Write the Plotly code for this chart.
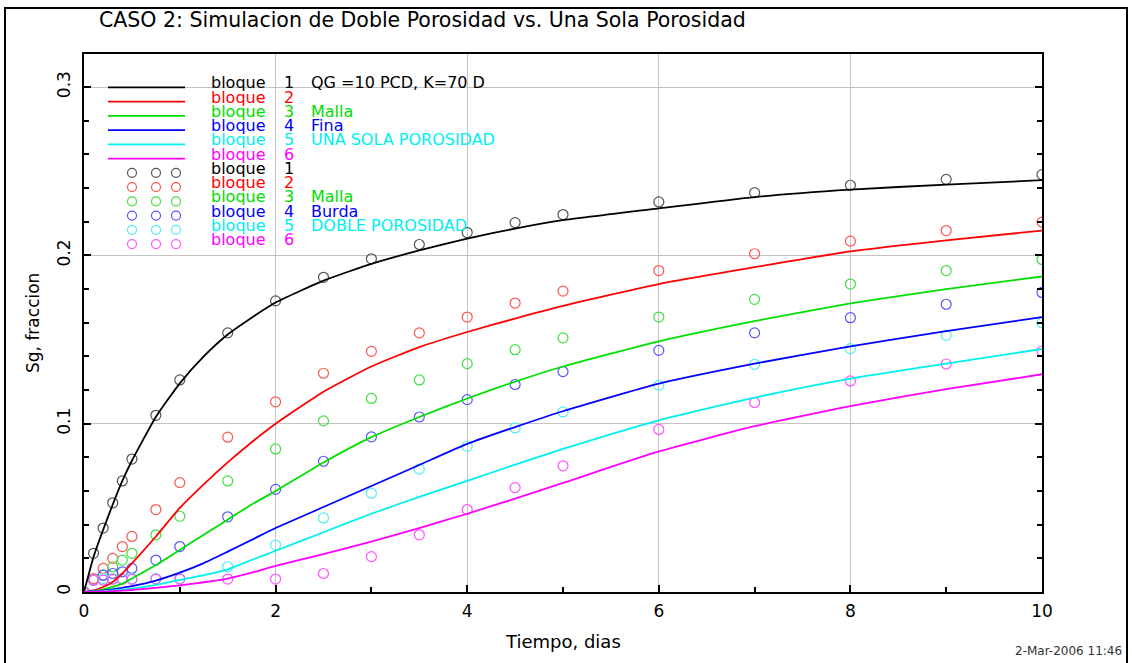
import plotly.graph_objects as go

# ---------------- data ----------------
t_line = [0, 0.1, 0.2, 0.3, 0.4, 0.5, 0.75, 1, 1.25, 1.5, 1.75, 2, 2.5, 3, 3.5, 4, 4.5, 5, 6, 7, 8, 9, 10]
t_mark = [0, 0.1, 0.2, 0.3, 0.4, 0.5, 0.75, 1, 1.5, 2, 2.5, 3, 3.5, 4, 4.5, 5, 6, 7, 8, 9, 10]

# single porosity (lines)
line_b1 = [0, 0.021, 0.037, 0.052, 0.066, 0.078, 0.104, 0.124, 0.140, 0.153, 0.163, 0.172, 0.185, 0.195, 0.203, 0.210, 0.216, 0.221, 0.228, 0.2347, 0.2391, 0.2421, 0.2447]
line_b2 = [0, 0.001, 0.003, 0.006, 0.011, 0.017, 0.033, 0.050, 0.064, 0.077, 0.089, 0.100, 0.119, 0.134, 0.1455, 0.1545, 0.1625, 0.170, 0.183, 0.193, 0.2024, 0.209, 0.2148]
line_b3 = [0, 0.0005, 0.0015, 0.003, 0.005, 0.008, 0.016, 0.025, 0.034, 0.043, 0.052, 0.060, 0.077, 0.092, 0.104, 0.115, 0.125, 0.134, 0.149, 0.161, 0.1715, 0.180, 0.1875]
line_b4 = [0, 0.0003, 0.0008, 0.0015, 0.0025, 0.0035, 0.0068, 0.0115, 0.0172, 0.024, 0.031, 0.038, 0.0505, 0.063, 0.0755, 0.088, 0.098, 0.1074, 0.1238, 0.1357, 0.146, 0.155, 0.1634]
line_b5 = [0, 0.0002, 0.0005, 0.001, 0.0015, 0.002, 0.0042, 0.0072, 0.010, 0.0135, 0.019, 0.0245, 0.0355, 0.0465, 0.0565, 0.066, 0.0757, 0.085, 0.102, 0.1155, 0.1268, 0.1357, 0.1444]
line_b6 = [0, 0.0001, 0.0003, 0.0005, 0.0008, 0.0012, 0.0025, 0.004, 0.0058, 0.008, 0.0115, 0.0155, 0.0225, 0.030, 0.038, 0.0465, 0.0555, 0.0648, 0.0835, 0.0985, 0.1105, 0.1205, 0.1294]

# double porosity (markers)
mark_b1 = [0, 0.023, 0.038, 0.053, 0.066, 0.079, 0.105, 0.126, 0.154, 0.173, 0.187, 0.198, 0.2065, 0.2136, 0.2195, 0.2243, 0.2318, 0.2373, 0.2417, 0.2452, 0.248]
mark_b2 = [0, 0.008, 0.014, 0.020, 0.027, 0.033, 0.049, 0.065, 0.092, 0.113, 0.130, 0.143, 0.154, 0.1634, 0.1717, 0.1788, 0.191, 0.201, 0.2085, 0.2148, 0.2198]
mark_b3 = [0, 0.007, 0.010, 0.015, 0.019, 0.023, 0.034, 0.045, 0.066, 0.085, 0.1017, 0.115, 0.126, 0.1357, 0.144, 0.151, 0.1634, 0.1739, 0.183, 0.191, 0.1976]
mark_b4 = [0, 0.007, 0.010, 0.011, 0.012, 0.014, 0.019, 0.027, 0.0447, 0.061, 0.0777, 0.0922, 0.104, 0.1143, 0.1233, 0.131, 0.1436, 0.154, 0.163, 0.171, 0.178]
mark_b5 = [0, 0.007, 0.008, 0.008, 0.008, 0.008, 0.008, 0.008, 0.015, 0.0279, 0.044, 0.0587, 0.073, 0.0866, 0.0975, 0.107, 0.1228, 0.1353, 0.1446, 0.1525, 0.160]
mark_b6 = [0, 0.007, 0.007, 0.0075, 0.0075, 0.0075, 0.0077, 0.0077, 0.0077, 0.0077, 0.011, 0.021, 0.034, 0.049, 0.062, 0.075, 0.0966, 0.1126, 0.1254, 0.1355, 0.1432]

line_colors = ["#000000", "#ff0000", "#00e000", "#0000ff", "#00f0f0", "#ff00ff"]
mark_colors = ["#555555", "#ff5555", "#44dd44", "#5555ff", "#55eeee", "#ff55ff"]

legend_nums = ["1", "2", "3", "4", "5", "6"]
legend_desc_lines = ["QG =10 PCD, K=70 D", "", "Malla", "Fina", "UNA SOLA POROSIDAD", ""]
legend_desc_marks = ["", "", "Malla", "Burda", "DOBLE POROSIDAD", ""]

title_text = "CASO 2: Simulacion de Doble Porosidad vs. Una Sola Porosidad"
x_title = "Tiempo, dias"
y_title = "Sg, fraccion"
date_text = "2-Mar-2006 11:46"

# ---------------- figure ----------------
W, H = 1132, 663
L, R, T, B = 84, 90, 54, 71
PW, PH = W - L - R, H - T - B


def px(x):
    return (x - L) / PW


def py(y):
    return (H - B - y) / PH


FONT = "DejaVu Sans"

fig = go.Figure()
lines = [line_b1, line_b2, line_b3, line_b4, line_b5, line_b6]
marks = [mark_b1, mark_b2, mark_b3, mark_b4, mark_b5, mark_b6]

for i in range(6):
    fig.add_trace(go.Scatter(
        x=t_mark, y=marks[i], mode="markers",
        marker=dict(symbol="circle-open", size=10, color=mark_colors[i], line=dict(width=1.2, color=mark_colors[i])),
        showlegend=False, hoverinfo="skip"))
for i in range(6):
    fig.add_trace(go.Scatter(
        x=t_line, y=lines[i], mode="lines", line=dict(color=line_colors[i], width=1.8, shape="spline", smoothing=0.5),
        showlegend=False, hoverinfo="skip"))

shapes = []
annotations = []

# outer border
shapes.append(dict(type="rect", xref="paper", yref="paper", x0=px(5), x1=px(1127), y0=py(675), y1=py(8),
                   line=dict(color="black", width=2), layer="above"))

row_h = 14.25
LEG_FS = 16
for i in range(6):
    yl = 87.3 + row_h * i
    shapes.append(dict(type="line", xref="paper", yref="paper", x0=px(108), x1=px(185), y0=py(yl), y1=py(yl),
                       line=dict(color=line_colors[i], width=1.8)))
    ym = 87.3 + row_h * (i + 6)
    for cx in (132, 156, 176):
        shapes.append(dict(type="circle", xref="paper", yref="paper", xsizemode="pixel", ysizemode="pixel",
                           xanchor=px(cx), yanchor=py(ym), x0=-4.5, x1=4.5, y0=-4.5, y1=4.5,
                           line=dict(color=mark_colors[i], width=1.2)))
    for yy, desc in ((yl, legend_desc_lines[i]), (ym, legend_desc_marks[i])):
        yt = yy - 4.5
        for xx, txt in ((210, "bloque"), (283, legend_nums[i]), (310, desc)):
            if not txt:
                continue
            annotations.append(dict(text=txt, xref="paper", yref="paper", x=px(xx), y=py(yt), xanchor="left",
                                    yanchor="middle", showarrow=False, borderpad=0,
                                    font=dict(family=FONT, size=LEG_FS, color=line_colors[i])))

annotations.append(dict(text=title_text, xref="paper", yref="paper", x=px(422), y=py(20), xanchor="center",
                        yanchor="middle", showarrow=False, font=dict(family=FONT, size=20.5, color="black")))
annotations.append(dict(text=x_title, xref="paper", yref="paper", x=px(563), y=py(641), xanchor="center",
                        yanchor="middle", showarrow=False, font=dict(family=FONT, size=18, color="black")))
annotations.append(dict(text=y_title, xref="paper", yref="paper", x=px(33), y=py(323), xanchor="center",
                        yanchor="middle", textangle=-90, showarrow=False, font=dict(family=FONT, size=17, color="black")))
annotations.append(dict(text=date_text, xref="paper", yref="paper", x=px(1124), y=py(651), xanchor="right",
                        yanchor="middle", showarrow=False, font=dict(family=FONT, size=12, color="#333333")))

fig.update_layout(
    width=W, height=H, autosize=False,
    margin=dict(l=L, r=R, t=T, b=B, pad=0),
    paper_bgcolor="white", plot_bgcolor="white",
    shapes=shapes, annotations=annotations, showlegend=False,
    font=dict(family=FONT, color="black"),
    xaxis=dict(range=[0, 10], tick0=0, dtick=2, showgrid=True, gridcolor="#c4c4c4", gridwidth=1,
               zeroline=False, showline=True, linecolor="black", linewidth=2, mirror=True,
               ticks="inside", ticklen=7, tickwidth=1.5, tickcolor="black",
               tickfont=dict(family=FONT, size=17, color="black"), ticklabelstandoff=3,
               minor=dict(dtick=1, tick0=0, ticks="inside", ticklen=5, tickwidth=1.5, tickcolor="black", showgrid=False)),
    yaxis=dict(range=[0, 0.3197], tick0=0, dtick=0.1, showgrid=True, gridcolor="#c4c4c4", gridwidth=1,
               zeroline=False, showline=True, linecolor="black", linewidth=2, mirror="allticks",
               ticks="inside", ticklen=7, tickwidth=1.5, tickcolor="black", tickangle=-90,
               tickfont=dict(family=FONT, size=17, color="black"), ticklabelstandoff=5,
               minor=dict(dtick=0.02, tick0=0, ticks="inside", ticklen=5, tickwidth=1.5, tickcolor="black", showgrid=False)),
)

fig.write_html("out.html")
